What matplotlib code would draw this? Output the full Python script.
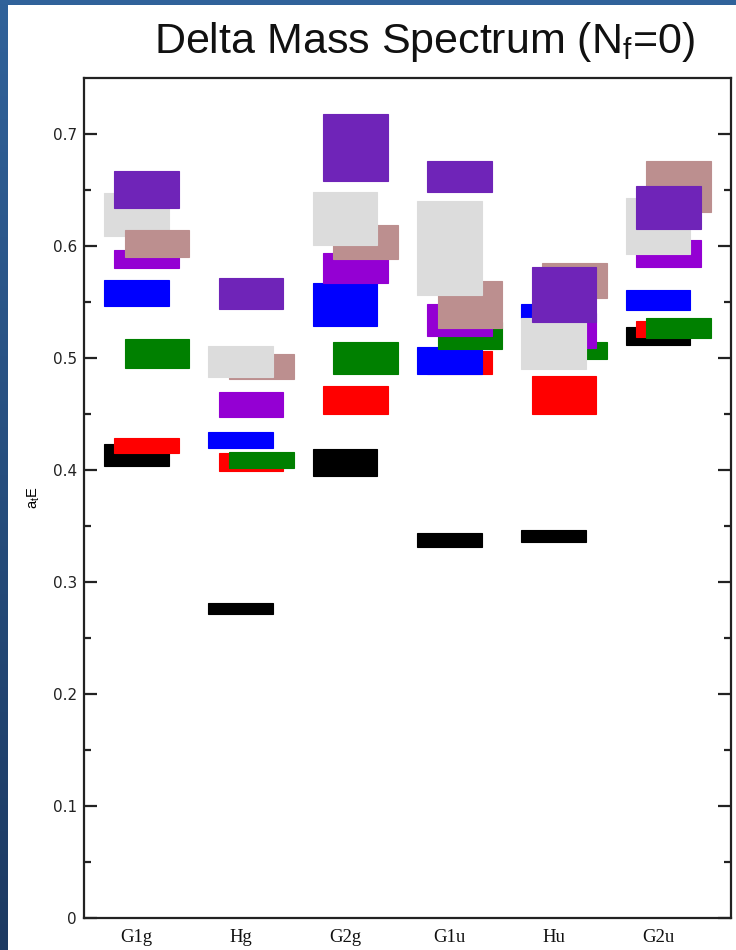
import numpy as np
import matplotlib
matplotlib.use('Agg')
import matplotlib.pyplot as plt
from matplotlib.colors import LinearSegmentedColormap

plt.rcParams['font.family'] = ['Liberation Sans', 'DejaVu Sans']
plt.rcParams['mathtext.fontset'] = 'custom'
plt.rcParams['mathtext.rm'] = 'Liberation Sans'
plt.rcParams['mathtext.it'] = 'Liberation Sans:italic'

# ---------------- data ----------------
categories = ['G1g', 'Hg', 'G2g', 'G1u', 'Hu', 'G2u']

black_mass = [0.4135, 0.276, 0.407, 0.3375, 0.341, 0.520]
black_err = [0.0095, 0.005, 0.012, 0.0065, 0.005, 0.008]

red_mass = [0.422, 0.407, 0.4625, 0.496, 0.467, 0.526]
red_err = [0.007, 0.008, 0.0125, 0.010, 0.017, 0.007]

blue_mass = [0.558, 0.427, 0.548, 0.498, 0.542, 0.552]
blue_err = [0.012, 0.007, 0.019, 0.012, 0.006, 0.009]

green_mass = [0.504, 0.409, 0.500, 0.520, 0.5065, 0.527]
green_err = [0.013, 0.007, 0.014, 0.012, 0.0075, 0.009]

violet_mass = [0.588, 0.4585, 0.5805, 0.534, 0.5245, 0.593]
violet_err = [0.008, 0.0115, 0.0135, 0.014, 0.0155, 0.012]

brown_mass = [0.602, 0.4925, 0.6035, 0.548, 0.5695, 0.653]
brown_err = [0.012, 0.0115, 0.0155, 0.021, 0.0155, 0.023]

grey_mass = [0.628, 0.497, 0.6245, 0.598, 0.513, 0.618]
grey_err = [0.019, 0.014, 0.0235, 0.042, 0.023, 0.025]

purple_mass = [0.6505, 0.5575, 0.688, 0.662, 0.5565, 0.6345]
purple_err = [0.0165, 0.0135, 0.030, 0.014, 0.0245, 0.0195]

yticks = [0, 0.1, 0.2, 0.3, 0.4, 0.5, 0.6, 0.7]
ytick_labels = ['0', '0.1', '0.2', '0.3', '0.4', '0.5', '0.6', '0.7']

# ---------------- style ----------------
# (mass, err, colour, horizontal offset) in drawing order
series = [
    (black_mass, black_err, '#000000', 0.0),
    (red_mass, red_err, '#ff0000', 0.1),
    (blue_mass, blue_err, '#0000ff', 0.0),
    (green_mass, green_err, '#008000', 0.2),
    (violet_mass, violet_err, '#9400d3', 0.1),
    (brown_mass, brown_err, '#bc8f8f', 0.2),
    (grey_mass, grey_err, '#dcdcdc', 0.0),
    (purple_mass, purple_err, '#6f24b8', 0.1),
]
bar_width = 0.62

W, H = 736, 950
fig = plt.figure(figsize=(W / 100, H / 100), dpi=100)

# blue frame with gradient
bg = fig.add_axes([0, 0, 1, 1], zorder=-10)
bg.set_axis_off()
cmap = LinearSegmentedColormap.from_list('frame', ['#30629a', '#1d3a62'])
grad = np.linspace(0, 1, 256).reshape(-1, 1)
bg.imshow(grad, aspect='auto', cmap=cmap, extent=[0, 1, 0, 1], origin='upper')
bg.add_patch(plt.Rectangle((8 / W, 0), 1 - 8 / W, 1 - 5 / H,
                           facecolor='white', edgecolor='none',
                           transform=bg.transAxes))
bg.set_xlim(0, 1)
bg.set_ylim(0, 1)

ax = fig.add_axes([84 / W, (H - 918) / H, (731 - 84) / W, (918 - 78) / H])
ax.set_facecolor('white')

x = np.arange(1, len(categories) + 1)
for i, (mass, err, col, off) in enumerate(series):
    m = np.array(mass)
    e = np.array(err)
    bars = ax.bar(x + off, 2 * e, bottom=m - e, width=bar_width,
                  color=col, edgecolor=col, linewidth=0.8, zorder=2 + i)
    if col == '#bc8f8f':
        # in G1g the brown level lies over the grey one
        bars.patches[0].set_zorder(2 + len(series))

ax.set_xlim(0.5, 6.7)
ax.set_ylim(0, 0.75)
ax.set_xticks(x)
ax.set_xticklabels(categories, family='Liberation Serif', fontsize=13.5,
                   color='#111111')
ax.tick_params(axis='x', length=0, pad=8)

ax.set_yticks(yticks)
ax.set_yticklabels(ytick_labels, family='DejaVu Sans', fontsize=11,
                   color='#222222')
ax.set_yticks(np.arange(0.05, 0.75, 0.1), minor=True)
ax.tick_params(axis='y', which='major', direction='in', length=9.5,
               width=1.6, right=True, pad=5, color='#222222')
ax.tick_params(axis='y', which='minor', direction='in', length=5,
               width=1.6, right=True, color='#222222')
for s in ax.spines.values():
    s.set_linewidth(1.6)
    s.set_color('#222222')

ax.set_ylabel(r'$\mathregular{a_t E}$', fontsize=10.5, labelpad=8)

fig.text(424 / W, 1 - 42 / H, r'Delta Mass Spectrum (N$\mathregular{_f}$=0)',
         ha='center', va='center', fontsize=31, color='#111111')

fig.savefig('out.png', dpi=100)
